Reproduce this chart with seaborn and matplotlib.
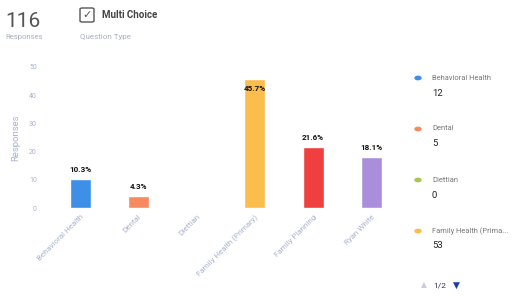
import matplotlib
matplotlib.use("Agg")
import matplotlib.pyplot as plt
import matplotlib.patches as mpatches
import pandas as pd
import seaborn as sns

sns.set_style("white")
plt.rcParams['font.family'] = ['Roboto', 'DejaVu Sans']

categories = ["Behavioral Health", "Dental", "Diettian", "Family Health (Primary)",
              "Family Planning", "Ryan White"]
counts = [12, 5, 0, 53, 25, 21]
percents = [10.3, 4.3, 0.0, 45.7, 21.6, 18.1]
colors = ["#3d8fe8", "#f7895e", "#a6c84f", "#fbbd4b", "#ef3f3f", "#ab8edb"]
legend_names = ["Behavioral Health", "Dental", "Diettian", "Family Health (Prima..."]
total_responses = 116

df = pd.DataFrame({"cat": categories, "pct": percents})

fig = plt.figure(figsize=(5.31, 2.96), dpi=100)
ax = fig.add_axes([0.085, 0.297, 0.68, 0.477])
sns.barplot(data=df, x="cat", y="pct", hue="cat", palette=colors, legend=False,
            width=0.36, ax=ax, saturation=1)
ax.set_xlim(-0.6, 5.6)
ax.set_ylim(0, 50)
ax.set_yticks([0, 10, 20, 30, 40, 50])
tick_col = "#a9b2cf"
ax.tick_params(axis='y', labelsize=5, colors=tick_col, length=0, pad=6)
ax.tick_params(axis='x', labelsize=5.8, colors=tick_col, length=0, pad=4)
plt.setp(ax.get_xticklabels(), rotation=45, ha='right', rotation_mode='anchor')
ax.set_xlabel("")
ax.set_ylabel("Responses", fontsize=6.8, color=tick_col, labelpad=6)
for s in ax.spines.values():
    s.set_visible(False)

for i, p in enumerate(percents):
    if p == 0:
        continue
    off = -7 if p > 44 else 7
    ax.annotate(f"{p}%", (i, p), xytext=(0, off), textcoords="offset points",
                ha='center', va='center', fontsize=5.8, fontweight='bold', color="#111111")

# header
fig.text(0.01, 0.895, str(total_responses), fontsize=15, color="#555555", va='bottom')
fig.text(0.01, 0.875, "Responses", fontsize=5.5, color="#aab0c0", va='center')
fig.patches.append(mpatches.FancyBboxPatch((80 / 531, 1 - 22 / 296), 14 / 531, 14 / 296,
                                           boxstyle="round,pad=0,rounding_size=0.004",
                                           transform=fig.transFigure, fill=False,
                                           edgecolor="#555555", linewidth=1))
fig.text(87 / 531, 1 - 15 / 296, "\u2713", fontsize=8, color="#555555", ha='center', va='center',
         family=['DejaVu Sans'])
fig.text(102 / 531, 1 - 15 / 296, "Multi Choice", fontsize=7, fontweight='bold',
         color="#444444", va='center')
fig.text(80 / 531, 0.875, "Question Type", fontsize=5.8, color="#aab0c0", va='center')

# side legend
for k, name in enumerate(legend_names):
    y = 1 - (78 + k * 51) / 296
    fig.patches.append(mpatches.Circle((418 / 531, y), 3 / 531, transform=fig.transFigure,
                                       color=colors[k]))
    fig.text(432 / 531, y, name, fontsize=5.4, color="#777777", va='center')
    fig.text(432 / 531, y - 15 / 296, str(counts[k]), fontsize=6.8, color="#222222", va='center')
fig.text(424 / 531, 1 - 285 / 296, "\u25b2", fontsize=5.5, color="#c8cde0", ha='center', va='center',
         family=['DejaVu Sans'])
fig.text(440 / 531, 1 - 285 / 296, "1/2", fontsize=6, color="#333366", ha='center', va='center')
fig.text(456 / 531, 1 - 285 / 296, "\u25bc", fontsize=6.5, color="#1a3ea8", ha='center', va='center',
         family=['DejaVu Sans'])

fig.savefig("out.png", dpi=100)
